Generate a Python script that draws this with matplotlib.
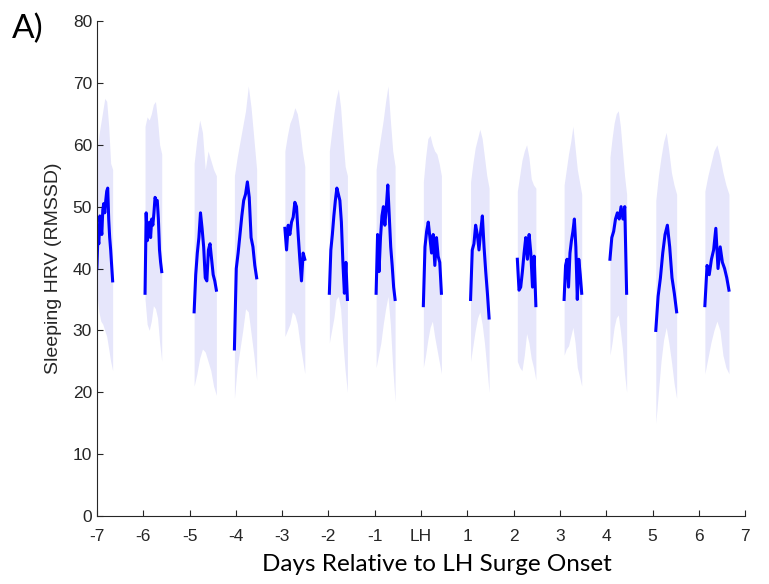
import numpy as np
import matplotlib
matplotlib.use("Agg")
import matplotlib.pyplot as plt

plt.rcParams["font.family"] = ["Liberation Sans", "DejaVu Sans"]

# night windows (days relative to LH surge onset)
night_start = [-7.0, -5.96, -4.9, -4.03, -2.94, -1.98, -0.97, 0.05, 1.07, 2.08, 3.09, 4.08, 5.07, 6.13]
night_end = [-6.66, -5.6, -4.42, -3.55, -2.51, -1.59, -0.56, 0.44, 1.47, 2.48, 3.47, 4.44, 5.52, 6.65]

# mean sleeping HRV per night
hrv_mean = [
    [40, 45, 44, 48.5, 47, 45.5, 49.5, 50.5, 49, 51, 52.5, 53, 48, 45, 43, 40.5, 38],
    [36, 49, 44.5, 46, 47.5, 45, 48, 47, 49, 51.5, 51, 51, 48, 43, 41, 39.5],
    [33, 39, 42.5, 45, 49, 46.5, 43.5, 38.5, 38, 43, 44, 41.5, 39, 38, 36.5],
    [27, 40, 42.5, 45.5, 48.5, 51, 52, 54, 51.5, 45, 43.5, 40.5, 38.5],
    [46.5, 43, 47, 45.5, 47.5, 48.3, 50.7, 50, 45.5, 41.5, 38, 42.5, 41.5],
    [36, 43, 45.5, 48.5, 51, 53, 52, 51, 47.5, 41, 36, 41, 35],
    [36, 45.5, 39.5, 45, 48.5, 50, 47, 50, 53.5, 48.5, 43.5, 40.5, 37, 35],
    [34, 43.5, 46, 47.5, 45, 42.5, 45.5, 40.5, 45, 42, 41, 36],
    [35, 43, 44, 47, 45.5, 43, 46, 48.5, 43.5, 39.5, 36, 32],
    [41.5, 36.5, 37, 39.5, 42.5, 45, 41.5, 45.5, 42.5, 37, 42, 34],
    [35, 40.5, 41.5, 37, 42.5, 44.5, 46, 48, 43.5, 35, 41.5, 39, 36],
    [41.5, 45, 46, 48, 49, 48, 50, 48, 50, 36],
    [30, 35.5, 38.5, 42.5, 45.5, 47, 43.5, 38.5, 36, 33],
    [34, 40.5, 39, 41.5, 43, 46.5, 40, 43.5, 41, 40, 38.5, 36.5],
]

# shaded spread, upper and lower edges
hrv_upper = [
    [59, 61.5, 63.5, 65.5, 67.5, 67, 63, 57, 56],
    [63, 64.5, 64, 65, 66.5, 67, 64, 60, 58.5],
    [57, 61, 64, 62, 56, 59, 57.5, 56, 55],
    [55, 58, 60.5, 63, 65.5, 69.5, 66, 61, 56],
    [59, 61.5, 63.5, 64.5, 66, 65, 62.5, 59, 56.5],
    [59, 62, 65, 67.5, 69, 66, 61, 56.5, 55],
    [56, 59, 61.5, 64, 67, 69.5, 64, 59, 56.5],
    [54, 58, 61, 61.5, 60, 59, 58.5, 57, 55],
    [54, 57, 59.5, 61, 62.5, 61, 58, 55, 53],
    [52.5, 55, 57.5, 59, 60, 58, 54.5, 53.5, 53],
    [53.5, 56, 58.5, 60.5, 63, 59.5, 56, 54, 52],
    [58, 61, 63.5, 65, 65.5, 63, 59, 55, 52],
    [51, 55, 58, 60.5, 62, 59, 55.5, 53.5, 52],
    [52.5, 55, 57, 59, 60, 58, 55.5, 53.5, 52],
]
hrv_lower = [
    [36, 33, 31.5, 31, 30, 29, 27, 25, 23.5],
    [35, 31, 30, 31.5, 34, 33.5, 32, 28, 25],
    [21, 23, 25.5, 27, 26.5, 25, 23.5, 21, 19.5],
    [19, 24, 27, 30, 33.5, 33, 29.5, 26, 22],
    [29, 30, 31, 33, 32.5, 31, 28, 25.5, 23],
    [28, 30, 32, 35, 35.5, 33.5, 28, 23.5, 20],
    [24, 26, 28, 31, 33.5, 35.5, 31, 24, 18.5],
    [24, 26, 28.5, 30.5, 31.5, 29, 27, 25, 23],
    [25, 27.5, 30, 32, 33, 31, 28, 24, 20],
    [25, 24, 23.5, 26, 29.5, 28, 25.5, 24, 22],
    [26, 27, 27.5, 29, 30.5, 28, 24, 22.5, 21],
    [26, 28, 30.5, 32, 32.5, 30, 27, 23, 20],
    [15, 20, 25, 28.5, 30.5, 28, 25, 21.5, 19],
    [23, 25.5, 28, 30, 31.5, 30, 26, 24, 23],
]

day_ticks = list(range(-7, 8))
day_labels = [str(d) if d != 0 else "LH" for d in day_ticks]

fig = plt.figure(figsize=(7.69, 5.84), dpi=100)
ax = fig.add_axes([0.126, 0.1164, 0.843, 0.8476])

for i in range(len(night_start)):
    t0, t1 = night_start[i], night_end[i]
    xb = np.linspace(t0, t1, len(hrv_upper[i]))
    ax.fill_between(xb, hrv_lower[i], hrv_upper[i], color="#e6e6fb", lw=0)
    xm = np.linspace(t0, t1, len(hrv_mean[i]))
    ax.plot(xm, hrv_mean[i], color="#0000ff", lw=2.2)

ax.set_xlim(-7, 7)
ax.set_ylim(0, 80)
ax.set_xticks(day_ticks)
ax.set_xticklabels(day_labels)
ax.set_yticks(range(0, 81, 10))

axcol = "#262626"
for s in ["top", "right"]:
    ax.spines[s].set_visible(False)
for s in ["left", "bottom"]:
    ax.spines[s].set_color(axcol)
    ax.spines[s].set_linewidth(0.8)
ax.tick_params(direction="in", length=4, width=0.8, colors=axcol, labelsize=12.5)
ax.tick_params(axis="x", pad=9)

ax.set_ylabel("Sleeping HRV (RMSSD)", fontsize=14, color=axcol, labelpad=8)
ax.set_xlabel("Days Relative to LH Surge Onset", family="Lato", fontsize=17.5, color="black")
ax.xaxis.set_label_coords(0.525, -0.077)

fig.text(0.015, 0.935, "A)", family="Lato", fontsize=24, color="black")

fig.savefig("out.png", dpi=100)
